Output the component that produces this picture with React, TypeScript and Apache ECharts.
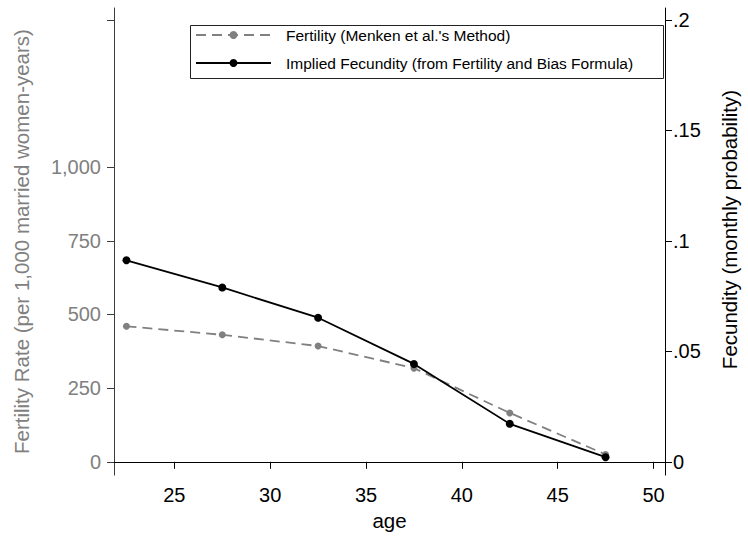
import React, { useEffect, useRef } from "react";
import * as echarts from "echarts";

const ages = [22.5, 27.5, 32.5, 37.5, 42.5, 47.5];
const fertility = [460, 431, 393, 318, 166, 25];
const fecundity = [0.0912, 0.0789, 0.0652, 0.0443, 0.0172, 0.0021];
const xTicks = [25, 30, 35, 40, 45, 50];
const leftTicks = [0, 250, 500, 750, 1000, 1500];
const leftLabels = [0, 250, 500, 750, 1000];
const rightTicks = [0, 0.05, 0.1, 0.15, 0.2];

const FONT = "Liberation Sans, Arial, Helvetica, sans-serif";
const GRAY = "#808080";

export default function App() {
  const ref = useRef<HTMLDivElement>(null);
  useEffect(() => {
    if (!ref.current) return;
    const chart = echarts.init(ref.current, undefined, { renderer: "svg" });
    const fmtRight = (v: number) => {
      if (Math.abs(v) < 1e-9) return "0";
      const s = String(Math.round(v * 1000) / 1000);
      return s.replace(/^0\./, ".");
    };
    chart.setOption({
      animation: false,
      backgroundColor: "#fff",
      textStyle: { fontFamily: FONT },
      grid: { left: 114, right: 77, top: 8, bottom: 55, containLabel: false },
      legend: {
        orient: "vertical",
        left: 195,
        top: 26,
        itemWidth: 75,
        itemHeight: 10,
        itemGap: 10,
        padding: 0,
        data: ["Fertility (Menken et al.'s Method)", "Implied Fecundity (from Fertility and Bias Formula)"],
        textStyle: { fontSize: 15.5, color: "#000", fontFamily: FONT, lineHeight: 18, padding: [0, 0, 0, 10] },
      },
      graphic: [
        {
          type: "rect",
          shape: { x: 190.5, y: 25.5, width: 473, height: 53 },
          style: { fill: "none", stroke: "#222", lineWidth: 1 },
          z: 10,
        },
      ],
      xAxis: {
        type: "value",
        min: 21.85,
        max: 50.6,
        name: "age",
        nameLocation: "middle",
        nameGap: 30,
        nameTextStyle: { fontSize: 20.5, color: "#000", fontFamily: FONT },
        axisLine: { show: true, lineStyle: { color: "#000", width: 1 } },
        axisTick: { show: true, length: 7, customValues: xTicks, lineStyle: { color: "#000" } },
        axisLabel: { customValues: xTicks, fontSize: 20, color: "#000", margin: 10, fontFamily: FONT },
        splitLine: { show: false },
      },
      yAxis: [
        {
          type: "value",
          min: -45,
          max: 1540,
          position: "left",
          name: "Fertility Rate (per 1,000 married women-years)",
          nameLocation: "middle",
          nameGap: 82,
          nameRotate: 90,
          nameTextStyle: { fontSize: 20.5, color: GRAY, fontFamily: FONT },
          axisLine: { show: true, lineStyle: { color: "#3c3c3c", width: 1 } },
          axisTick: { show: true, length: 7, customValues: leftTicks, lineStyle: { color: "#3c3c3c" } },
          axisLabel: {
            customValues: leftLabels,
            fontSize: 20,
            color: GRAY,
            margin: 13,
            fontFamily: FONT,
            formatter: (v: number) => v.toLocaleString("en-US"),
          },
          splitLine: { show: false },
        },
        {
          type: "value",
          min: -0.006,
          max: 0.205333,
          position: "right",
          name: "Fecundity (monthly probability)",
          nameLocation: "middle",
          nameGap: 54,
          nameRotate: 90,
          nameTextStyle: { fontSize: 20.5, color: "#000", fontFamily: FONT, padding: [0, 0, 0, 24] },
          axisLine: { show: true, lineStyle: { color: "#000", width: 1 } },
          axisTick: { show: true, length: 7, customValues: rightTicks, lineStyle: { color: "#000" } },
          axisLabel: {
            customValues: rightTicks,
            fontSize: 20,
            color: "#000",
            margin: 8,
            fontFamily: FONT,
            formatter: fmtRight,
          },
          splitLine: { show: false },
        },
      ],
      series: [
        {
          name: "Fertility (Menken et al.'s Method)",
          type: "line",
          yAxisIndex: 0,
          data: ages.map((a, i) => [a, fertility[i]]),
          symbol: "circle",
          symbolSize: 7,
          itemStyle: { color: GRAY },
          lineStyle: { color: GRAY, width: 1.8, type: [10, 6] },
          z: 2,
        },
        {
          name: "Implied Fecundity (from Fertility and Bias Formula)",
          type: "line",
          yAxisIndex: 1,
          data: ages.map((a, i) => [a, fecundity[i]]),
          symbol: "circle",
          symbolSize: 8,
          itemStyle: { color: "#000" },
          lineStyle: { color: "#000", width: 1.8 },
          z: 3,
        },
      ],
    });
    return () => chart.dispose();
  }, []);
  return (
    <div
      ref={ref}
      style={{ position: "fixed", left: 0, top: 0, width: 748, height: 536 }}
    />
  );
}
